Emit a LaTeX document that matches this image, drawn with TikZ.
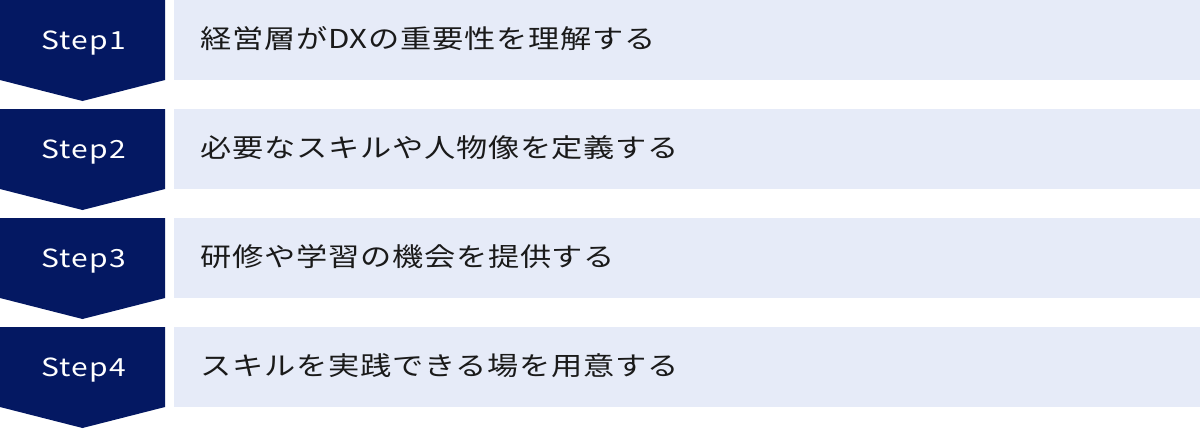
\documentclass[tikz,border=0pt]{standalone}
\usepackage{fontspec}
\setmainfont{Noto Sans CJK JP}
\newfontfamily\stepfont[FakeStretch=1.2,LetterSpace=5]{Noto Sans CJK JP}
\newfontfamily\jpfont[FakeStretch=1.2,LetterSpace=3]{Noto Sans CJK JP}
\definecolor{navy}{HTML}{041862}
\definecolor{pale}{HTML}{E6EBF8}
\definecolor{ink}{HTML}{1A1A1A}
\begin{document}
\begin{tikzpicture}[x=1pt,y=-1pt,
  steplabel/.style={text=white,font=\stepfont\fontsize{25}{30}\selectfont,inner sep=0pt,anchor=base},
  desclabel/.style={text=ink,font=\jpfont\fontsize{26}{32}\selectfont,inner sep=0pt,anchor=base west}]
\useasboundingbox (0,0) rectangle (1200,429);
\fill[white] (0,0) rectangle (1200,429);
\foreach \i/\txt in {0/経営層がDXの重要性を理解する,1/必要なスキルや人物像を定義する,2/研修や学習の機会を提供する,3/スキルを実践できる場を用意する}{
  \pgfmathsetmacro{\t}{109*\i}
  \fill[navy] (0,\t) -- (165,\t) -- (165,\t+80) -- (82.5,\t+101) -- (0,\t+80) -- cycle;
  \fill[pale] (174,\t) rectangle (1200,\t+80);
  \pgfmathtruncatemacro{\n}{\i+1}
  \node[steplabel] (step\n) at (83.5,\t+49) {Step\n};
  \node[desclabel] (desc\n) at (200,\t+48) {\txt};
}
\end{tikzpicture}
\end{document}
